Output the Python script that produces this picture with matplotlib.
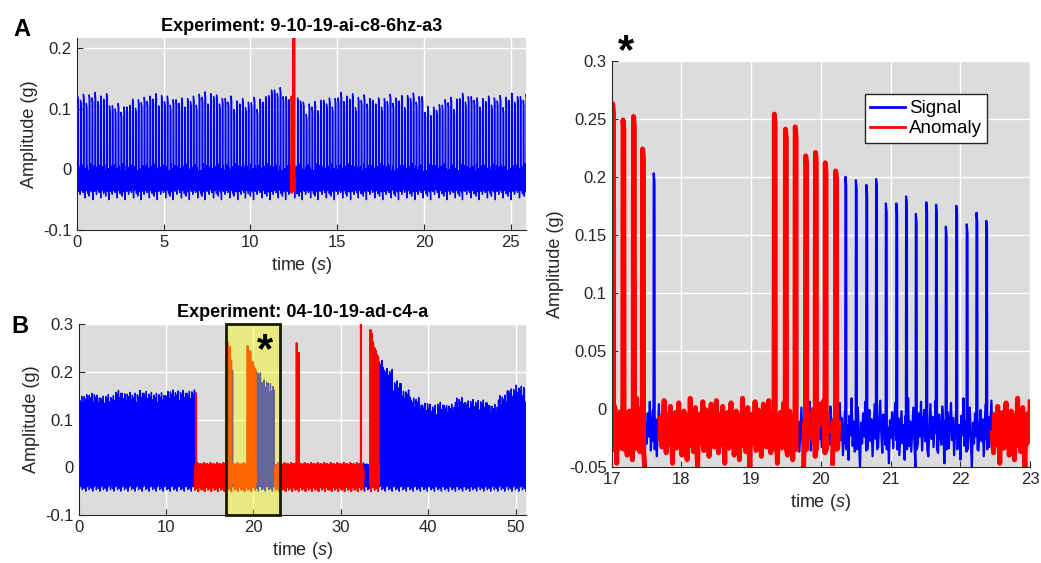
import numpy as np
import matplotlib
matplotlib.use("Agg")
from matplotlib import pyplot as plt
from matplotlib.patches import Rectangle
from matplotlib.lines import Line2D
from matplotlib.ticker import FormatStrFormatter

plt.rcParams["font.family"] = ["Liberation Sans", "DejaVu Sans"]
plt.rcParams["axes.unicode_minus"] = False
plt.rcParams["mathtext.fontset"] = "custom"
plt.rcParams["mathtext.rm"] = "Liberation Sans"
plt.rcParams["mathtext.it"] = "Liberation Sans:italic"

BLUE = "#0000ff"
RED = "#ff0000"
BG = "#dcdcdc"
INK = "#262626"

# sensor ringing between impacts (g), one sample every 15 ms
ring = [-0.012, -0.030, -0.004, -0.024, 0.006, -0.036, -0.015, -0.001, -0.028, -0.009,
        -0.041, -0.018, 0.004, -0.026, -0.007, -0.033, -0.013, 0.007, -0.021, -0.038,
        -0.005, -0.019, -0.031, 0.002, -0.016, -0.047, -0.010, -0.025, -0.003, -0.034,
        -0.012, 0.005, -0.027, -0.008, -0.040, -0.020, -0.002, -0.030, -0.014, -0.044,
        -0.006, -0.023, 0.009, -0.032, -0.011, -0.037, -0.017, 0.001, -0.029, -0.050]
# impact-to-impact variation of the peak around the level of that second
spread = [0.0, -0.006, 0.004, -0.011, 0.003, -0.002, 0.007, -0.008, 0.001,
          -0.004, 0.005, -0.015, 0.002, -0.003, 0.006, -0.009, 0.0]

# experiment 9-10-19-ai-c8-6hz-a3
a_period = 1 / 6
a_level = [0.12, 0.12, 0.103, 0.112, 0.12, 0.115, 0.114, 0.123, 0.117, 0.11, 0.114, 0.131, 0.117,
           0.106, 0.114, 0.12, 0.117, 0.114, 0.117, 0.12, 0.10, 0.114, 0.12, 0.114, 0.117, 0.12]
a_spike_t = [12.38, 12.48]
a_spike_v = [0.12, 0.26]
a_anomaly = [(12.34, 12.54)]

# experiment 04-10-19-ad-c4-a
b_period = 0.145
b_level_start = [0.145, 0.15, 0.145, 0.145, 0.155, 0.15, 0.15, 0.155, 0.15, 0.15, 0.155, 0.155, 0.155, 0.155]
b_level_end = [0.22, 0.20, 0.175, 0.155, 0.14, 0.13, 0.125, 0.13, 0.125, 0.14, 0.135, 0.135,
               0.135, 0.125, 0.145, 0.16, 0.165, 0.14]  # seconds 34..51
# impacts inside the 17-23 s window
z_pulse_t = [17.01, 17.16, 17.31, 17.44, 17.60, 19.33, 19.49, 19.63, 19.78, 19.92, 20.06, 20.21,
             20.35, 20.50, 20.65, 20.79, 20.93, 21.08, 21.22, 21.36, 21.51, 21.65, 21.79, 21.94,
             22.09, 22.23, 22.37]
z_pulse_v = [0.263, 0.249, 0.252, 0.224, 0.203, 0.254, 0.241, 0.243, 0.218, 0.221, 0.212, 0.205,
             0.200, 0.197, 0.193, 0.198, 0.177, 0.177, 0.183, 0.168, 0.178, 0.176, 0.157, 0.175,
             0.159, 0.169, 0.162]
# isolated impacts in the quiet stretches
b_spike_t = [13.42, 24.95, 25.2, 32.3, 33.40, 33.55, 33.69, 33.84, 33.98, 34.13, 34.27]
b_spike_v = [0.155, 0.26, 0.24, 0.30, 0.288, 0.28, 0.262, 0.25, 0.245, 0.236, 0.232]
b_anomaly = [(13.3, 17.48), (17.68, 19.66), (19.74, 19.83), (19.88, 19.97), (20.02, 20.11),
             (20.16, 20.26), (22.45, 32.6), (33.35, 34.4)]


def impacts(t0, t1, period, level, level_t0):
    times = np.arange(t0, t1, period)
    peaks = [level[int(t - level_t0)] + spread[i % len(spread)] for i, t in enumerate(times)]
    return list(times), peaks


def trace(t0, t1, pulse_t, pulse_v, width, dt=0.015):
    """Impacts as narrow spikes with ringing samples in between."""
    ts, ys = [], []
    n = 0
    edges = [t0] + list(pulse_t) + [t1]
    for i in range(len(edges) - 1):
        a, b = edges[i], edges[i + 1]
        if i > 0:
            p = pulse_v[i - 1]
            ts += [a, a + 0.003, a + width, a + width + 0.003]
            ys += [ring[n % len(ring)], p, p - 0.008, -0.035]
            n += 1
            a += width + 0.003
        for g in np.arange(a + dt, b, dt):
            ts.append(g)
            ys.append(ring[n % len(ring)])
            n += 1
    return np.array(ts), np.array(ys)


def only(t, y, spans):
    mask = np.zeros(len(t), dtype=bool)
    for lo, hi in spans:
        mask |= (t >= lo) & (t <= hi)
    return np.where(mask, y, np.nan)


def style(ax, xlim, ylim, yticks):
    ax.set_facecolor(BG)
    ax.set_xlim(*xlim)
    ax.set_ylim(*ylim)
    ax.set_yticks(yticks)
    ax.yaxis.set_major_formatter(FormatStrFormatter("%g"))
    ax.grid(True, color="white", lw=1.0)
    ax.set_axisbelow(True)
    for s in ["top", "right"]:
        ax.spines[s].set_visible(False)
    for s in ["left", "bottom"]:
        ax.spines[s].set_color(INK)
    ax.tick_params(direction="in", length=4, color=INK, labelcolor=INK, labelsize=12)
    ax.set_xlabel(r"time ($\mathit{s}$)", fontsize=13, color=INK)
    ax.set_ylabel("Amplitude (g)", fontsize=13, color=INK)


# signal A
pa_t, pa_v = impacts(0.05, 25.95, a_period, a_level, 0)
keep = [(t, v) for t, v in zip(pa_t, pa_v) if not (12.3 <= t <= 12.56)]
keep += list(zip(a_spike_t, a_spike_v))
keep.sort()
ta, ya = trace(0, 25.95, [k[0] for k in keep], [k[1] for k in keep], width=0.04)

# signal B
p1_t, p1_v = impacts(0.05, 13.3, b_period, b_level_start, 0)
p2_t, p2_v = impacts(34.42, 51.2, b_period, b_level_end, 34)
pb = list(zip(p1_t, p1_v)) + list(zip(z_pulse_t, z_pulse_v)) + list(zip(b_spike_t, b_spike_v)) + list(zip(p2_t, p2_v))
pb.sort()
tb, yb = trace(0, 51.2, [k[0] for k in pb], [k[1] for k in pb], width=0.014)

fig = plt.figure(figsize=(10.41, 5.63), dpi=100)

ax1 = fig.add_axes([0.0737, 0.5915, 0.432, 0.3405])
ax1.plot(ta, ya, color=BLUE, lw=1.0)
ax1.plot(ta, only(ta, ya, a_anomaly), color=RED, lw=2.0)
style(ax1, (0, 25.9), (-0.1, 0.2165), [-0.1, 0, 0.1, 0.2])
ax1.set_xticks([0, 5, 10, 15, 20, 25])
ax1.set_title("Experiment: 9-10-19-ai-c8-6hz-a3", fontsize=13, fontweight="bold", pad=5)

ax2 = fig.add_axes([0.0756, 0.0853, 0.4297, 0.339])
ax2.plot(tb, yb, color=BLUE, lw=1.0)
ax2.plot(tb, only(tb, yb, b_anomaly), color=RED, lw=1.5)
style(ax2, (0, 51.2), (-0.1, 0.3), [-0.1, 0, 0.1, 0.2, 0.3])
ax2.set_xticks([0, 10, 20, 30, 40, 50])
ax2.set_title("Experiment: 04-10-19-ad-c4-a", fontsize=13, fontweight="bold", pad=5)
ax2.add_patch(Rectangle((16.9, -0.1), 6.15, 0.4, facecolor=(1, 1, 0, 0.4),
                        edgecolor=(0.1, 0.1, 0.0), lw=2, zorder=5, clip_on=False))
ax2.text(21.3, 0.243, "*", fontsize=30, fontweight="bold", ha="center", va="center", zorder=6)

ax3 = fig.add_axes([0.5876, 0.171, 0.4018, 0.721])
ax3.plot(tb, yb, color=BLUE, lw=1.6)
ax3.plot(tb, only(tb, yb, b_anomaly), color=RED, lw=3.6)
style(ax3, (17, 23), (-0.05, 0.3), [-0.05, 0, 0.05, 0.1, 0.15, 0.2, 0.25, 0.3])
ax3.set_xticks(range(17, 24))
ax3.text(0.034, 1.022, "*", transform=ax3.transAxes, fontsize=30, fontweight="bold",
         ha="center", va="center")
handles = [Line2D([], [], color=BLUE, lw=2, label="Signal"),
           Line2D([], [], color=RED, lw=2, label="Anomaly")]
ax3.legend(handles=handles, loc="upper left", bbox_to_anchor=(0.605, 0.917), fancybox=False,
           edgecolor=INK, framealpha=1, fontsize=13.5, handlelength=1.85, handletextpad=0.2,
           borderpad=0.3, labelspacing=0.15, borderaxespad=0)

fig.text(13 / 1041, 1 - 36 / 563, "A", fontsize=17, fontweight="bold", va="baseline")
fig.text(11 / 1041, 1 - 333 / 563, "B", fontsize=17, fontweight="bold", va="baseline")

fig.savefig("out.png", dpi=100)
